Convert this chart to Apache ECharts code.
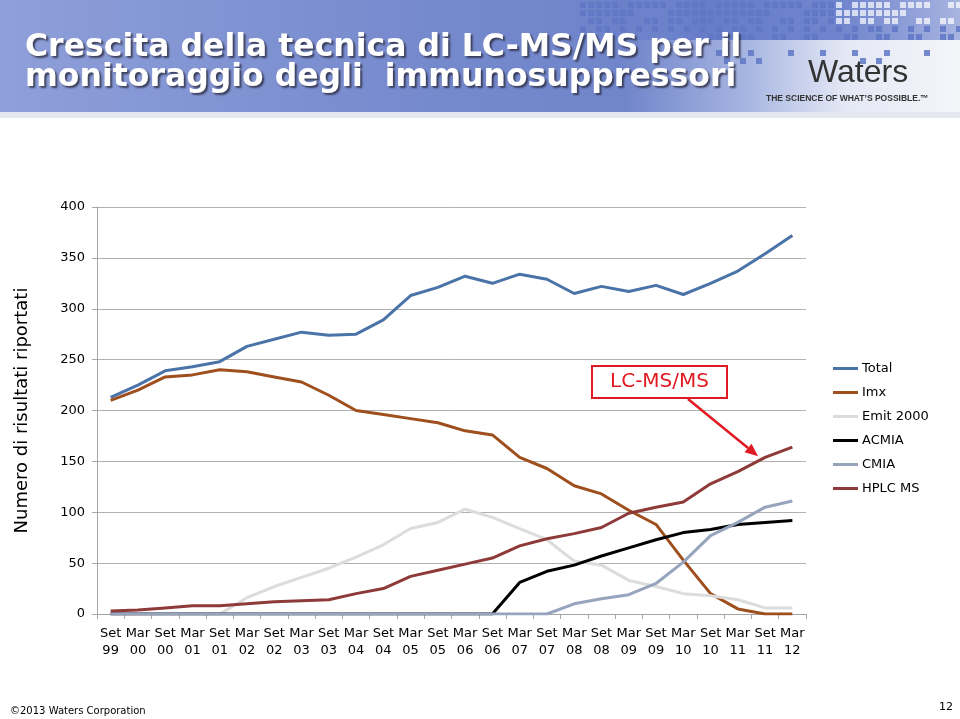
<!DOCTYPE html>
<html>
<head>
<meta charset="utf-8">
<script src="https://cdn.jsdelivr.net/npm/echarts@6/dist/echarts.min.js"></script>
<style>
html,body{margin:0;padding:0;background:#fff;}
#c{width:960px;height:719px;}
</style>
</head>
<body>
<div id="c"></div>
<script>
// ---- data ----
const categories = ['Set\n99','Mar\n00','Set\n00','Mar\n01','Set\n01','Mar\n02','Set\n02','Mar\n03','Set\n03','Mar\n04','Set\n04','Mar\n05','Set\n05','Mar\n06','Set\n06','Mar\n07','Set\n07','Mar\n08','Set\n08','Mar\n09','Set\n09','Mar\n10','Set\n10','Mar\n11','Set\n11','Mar\n12'];
const total  = [213,225,239,243,248,263,270,277,274,275,289,313,321,332,325,334,329,315,322,317,323,314,325,337,354,372];
const imx    = [210,220,233,235,240,238,233,228,215,200,196,192,188,180,176,154,143,126,118,102,88,53,20,5,0,0];
const emit   = [0,0,0,0,0,16,27,36,45,56,68,84,90,103,95,84,73,52,48,33,27,20,18,14,6,6];
const acmia  = [0,0,0,0,0,0,0,0,0,0,0,0,0,0,0,31,42,48,57,65,73,80,83,88,90,92];
const cmia   = [0,0,0,0,0,0,0,0,0,0,0,0,0,0,0,0,0,10,15,19,30,51,77,90,105,111];
const hplc   = [3,4,6,8,8,10,12,13,14,20,25,37,43,49,55,67,74,79,85,99,105,110,128,140,154,164];
const yTicks = {min:0, max:400, interval:50};

const FONT = 'DejaVu Sans';
const chart = echarts.init(document.getElementById('c'));

function mkSeries(name, data, color){
  return {name, type:'line', data, symbol:'none', lineStyle:{width:3, color}, itemStyle:{color}, z:2, emphasis:{disabled:true}};
}

// decorative pixel pattern for the banner
const deco = [];
for (let r = 0; r < 8; r++) {
  for (let c = 0; c < 48; c++) {
    const x = 580 + c * 8;
    const y = r * 8 + 2;
    const h = (c * 37 + r * 91 + c * r * 13) % 17;
    const lim = 14 - r * 1.7 - Math.max(0, (x - 880) / 25);
    if (h < lim && !(r > 3 && x < 700)) {
      deco.push({type:'rect', shape:{x, y, width:6, height:6}, style:{fill: r < 3 && x > 830 ? '#ffffff' : '#5f77c6', opacity: r < 3 && x > 830 ? 0.7 : 0.85}, silent:true, z:1});
    }
  }
}

const option = {
  animation:false,
  backgroundColor:'#ffffff',
  grid:{left:97, right:154, top:207, bottom:105},
  legend:{
    orient:'vertical', left:828, top:357,
    icon:'rect', itemWidth:25, itemHeight:3, itemGap:11,
    textStyle:{fontFamily:FONT, fontSize:13, color:'#000', lineHeight:13, padding:[0,0,0,-1]},
    data:['Total','Imx','Emit 2000','ACMIA','CMIA','HPLC MS']
  },
  xAxis:{
    type:'category', data:categories, boundaryGap:true,
    axisLine:{lineStyle:{color:'#a6a6a6', width:1}},
    axisTick:{show:true, length:5, lineStyle:{color:'#a6a6a6'}},
    axisLabel:{interval:0, fontFamily:FONT, fontSize:13, color:'#000', lineHeight:17, margin:11}
  },
  yAxis:{
    type:'value', min:yTicks.min, max:yTicks.max, interval:yTicks.interval,
    axisLine:{show:true, lineStyle:{color:'#a6a6a6'}},
    axisTick:{show:true, length:5, lineStyle:{color:'#a6a6a6'}},
    splitLine:{lineStyle:{color:'#b0b0b0', width:1}},
    axisLabel:{fontFamily:FONT, fontSize:13, color:'#000', margin:12},
    name:'Numero di risultati riportati', nameLocation:'middle', nameGap:66,
    nameTextStyle:{fontFamily:FONT, fontSize:18, color:'#000'}
  },
  series:[
    mkSeries('Total', total, '#4a73a8'),
    mkSeries('Imx', imx, '#9e4f1d'),
    mkSeries('Emit 2000', emit, '#dcdcdc'),
    mkSeries('ACMIA', acmia, '#000000'),
    mkSeries('CMIA', cmia, '#97a4be'),
    mkSeries('HPLC MS', hplc, '#8e3a38')
  ],
  graphic:[]
};
chart.setOption(option);

// annotation arrow computed from the HPLC line near Set 11
const tipBase = chart.convertToPixel({gridIndex:0}, [24, hplc[24]]);
const tip = [tipBase[0] - 7, tipBase[1] - 1];
const tail = [688, 399];
const ang = Math.atan2(tip[1] - tail[1], tip[0] - tail[0]);
const hl = 13, hw = 5.5;
const bx = tip[0] - hl * Math.cos(ang), by = tip[1] - hl * Math.sin(ang);
const head = [
  tip,
  [bx + hw * Math.sin(ang), by - hw * Math.cos(ang)],
  [bx - hw * Math.sin(ang), by + hw * Math.cos(ang)]
];

const titleStyle = {
  font:'bold 31.5px "DejaVu Sans"', fill:'#ffffff', verticalAlign:'middle',
  textShadowColor:'rgba(40,40,60,0.8)', textShadowBlur:2, textShadowOffsetX:2, textShadowOffsetY:2
};

const graphics = [
  // banner
  {type:'rect', shape:{x:0, y:0, width:960, height:118}, silent:true, z:0,
   style:{fill:new echarts.graphic.LinearGradient(0,0,1,0,[
     {offset:0, color:'#8e9fd9'},{offset:0.45, color:'#7589cd'},{offset:0.65, color:'#7085ca'},
     {offset:0.78, color:'#a8b6e2'},{offset:0.88, color:'#e4e8f5'},{offset:1, color:'#f5f6fa'}])}},
  {type:'rect', shape:{x:560, y:0, width:400, height:40}, silent:true, z:0,
   style:{fill:new echarts.graphic.LinearGradient(0,0,1,0,[
     {offset:0, color:'rgba(100,122,200,0)'},{offset:0.35, color:'rgba(92,115,198,0.8)'},{offset:0.7, color:'rgba(92,115,198,0.85)'},{offset:1, color:'rgba(92,115,198,0.5)'}])}},
  {type:'rect', shape:{x:0, y:112, width:960, height:6}, silent:true, z:1,
   style:{fill:'#e6e8ef'}},
  ...deco,
  {type:'text', x:25, y:48, silent:true, z:5,
   style:Object.assign({text:'Crescita della tecnica di LC-MS/MS per il'}, titleStyle)},
  {type:'text', x:25, y:78, silent:true, z:5,
   style:Object.assign({text:'monitoraggio degli  immunosuppressori'}, titleStyle)},
  {type:'text', left:808, top:57, silent:true, z:5,
   style:{text:'Waters', font:'32px "Liberation Sans"', fill:'#333333'}},
  {type:'text', left:766, top:94, silent:true, z:5,
   style:{text:'THE SCIENCE OF WHAT\u2019S POSSIBLE.\u2122', font:'bold 8.5px "Liberation Sans"', fill:'#333333'}},
  // annotation
  {type:'rect', shape:{x:592, y:366, width:135, height:32}, z:10,
   style:{fill:'#ffffff', stroke:'#e01a22', lineWidth:2}},
  {type:'text', x:659.5, y:382, z:11,
   style:{text:'LC-MS/MS', font:'20px "DejaVu Sans"', fill:'#e01a22', align:'center', verticalAlign:'middle'}},
  {type:'line', shape:{x1:tail[0], y1:tail[1], x2:bx, y2:by}, z:10,
   style:{stroke:'#e01a22', lineWidth:2.5}},
  {type:'polygon', shape:{points:head}, z:10, style:{fill:'#e01a22'}},
  // footer
  {type:'text', left:10, top:706, style:{text:'\u00a92013 Waters Corporation', font:'10px "DejaVu Sans"', fill:'#000'}},
  {type:'text', left:939, top:702, style:{text:'12', font:'11px "DejaVu Sans"', fill:'#000'}}
];
chart.setOption({graphic:graphics});
</script>
</body>
</html>
